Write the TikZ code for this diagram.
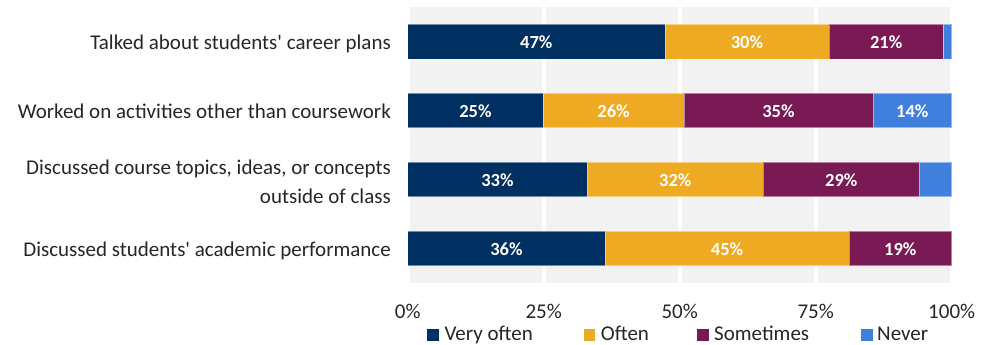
\documentclass[tikz,border=0pt]{standalone}
\usepackage{fontspec}
\setmainfont{Carlito}[Ligatures=TeXOff]
\definecolor{vo}{HTML}{002F61}
\definecolor{of}{HTML}{EFAA23}
\definecolor{so}{HTML}{7A1A55}
\definecolor{ne}{HTML}{4080DC}
\definecolor{bgc}{HTML}{F2F2F2}
\definecolor{txt}{HTML}{262626}
\begin{document}
\begin{tikzpicture}[x=1pt,y=-1pt,
  seg/.style={draw=white, draw opacity=0.45, line width=0.5pt},
  val/.style={text=white, font=\fontsize{18.5}{20}\selectfont\bfseries, inner sep=0pt, anchor=base},
  cat/.style={anchor=base east, text=txt, font=\fontsize{21}{29}\selectfont, inner sep=0pt},
  ticklab/.style={anchor=base, text=txt, font=\fontsize{21}{24}\selectfont, inner sep=0pt},
  leg/.style={anchor=base west, text=txt, font=\fontsize{21}{24}\selectfont, inner sep=0pt}]
\useasboundingbox (0,0) rectangle (989,345);
% plot background
\fill[bgc] (407.7,7.3) rectangle (951.7,282.7);
\begin{scope}[shift={(407.7,0)}, x=5.44pt]
\foreach \p in {0,25,50,75,100}
  \fill[white] ([xshift=-1.8pt]\p,7.3) rectangle ([xshift=1.8pt]\p,282.7);
% row 1
\filldraw[seg, fill=vo] (0,24.3) rectangle (47.3,59);
\filldraw[seg, fill=of] (47.3,24.3) rectangle (77.4,59);
\filldraw[seg, fill=so] (77.4,24.3) rectangle (98.5,59);
\filldraw[seg, fill=ne] (98.5,24.3) rectangle (100,59);
\node[val] (v11) at (23.65,49) {47\%};
\node[val] (v12) at (62.35,49) {30\%};
\node[val] (v13) at (87.95,49) {21\%};
% row 2
\filldraw[seg, fill=vo] (0,93.3) rectangle (24.9,127.7);
\filldraw[seg, fill=of] (24.9,93.3) rectangle (50.8,127.7);
\filldraw[seg, fill=so] (50.8,93.3) rectangle (85.5,127.7);
\filldraw[seg, fill=ne] (85.5,93.3) rectangle (100,127.7);
\node[val] (v21) at (12.45,117.8) {25\%};
\node[val] (v22) at (37.85,117.8) {26\%};
\node[val] (v23) at (68.15,117.8) {35\%};
\node[val] (v24) at (92.75,117.8) {14\%};
% row 3
\filldraw[seg, fill=vo] (0,162.3) rectangle (33.0,196.7);
\filldraw[seg, fill=of] (33.0,162.3) rectangle (65.4,196.7);
\filldraw[seg, fill=so] (65.4,162.3) rectangle (94.0,196.7);
\filldraw[seg, fill=ne] (94.0,162.3) rectangle (100,196.7);
\node[val] (v31) at (16.5,186.8) {33\%};
\node[val] (v32) at (49.2,186.8) {32\%};
\node[val] (v33) at (79.7,186.8) {29\%};
% row 4
\filldraw[seg, fill=vo] (0,231) rectangle (36.3,265.7);
\filldraw[seg, fill=of] (36.3,231) rectangle (81.1,265.7);
\filldraw[seg, fill=so] (81.1,231) rectangle (100,265.7);
\node[val] (v41) at (18.15,255.6) {36\%};
\node[val] (v42) at (58.7,255.6) {45\%};
\node[val] (v43) at (90.55,255.6) {19\%};
% ticks
\node[ticklab] (t0) at (0,318.3) {0\%};
\node[ticklab] (t25) at (25,318.3) {25\%};
\node[ticklab] (t50) at (50,318.3) {50\%};
\node[ticklab] (t75) at (75,318.3) {75\%};
\node[ticklab] (t100) at (100,318.3) {100\%};
\end{scope}
% category labels
\node[cat] (c1) at (391,49.3) {Talked about students' career plans};
\node[cat] (c2) at (391,119) {Worked on activities other than coursework};
\node[cat] (c3a) at (391,175) {Discussed course topics, ideas, or concepts};
\node[cat] (c3b) at (391,203.3) {outside of class};
\node[cat] (c4) at (391,256.7) {Discussed students' academic performance};
% legend
\fill[vo] (427.3,329.3) rectangle (439,340.7);
\node[leg] (l1) at (444.3,340.7) {Very often};
\fill[of] (583.7,329.3) rectangle (595.4,340.7);
\node[leg] (l2) at (600.7,340.7) {Often};
\fill[so] (697.3,329.3) rectangle (709,340.7);
\node[leg] (l3) at (714,340.7) {Sometimes};
\fill[ne] (861,329.3) rectangle (872.7,340.7);
\node[leg] (l4) at (877,340.7) {Never};
\end{tikzpicture}
\end{document}
